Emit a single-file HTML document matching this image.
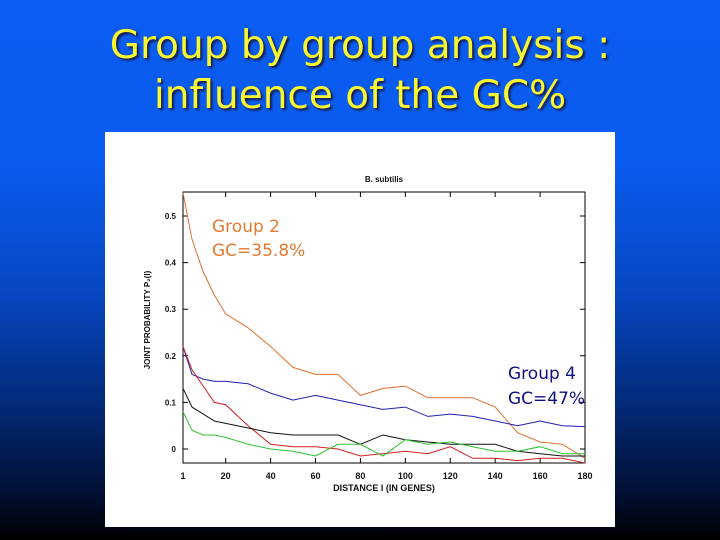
<!DOCTYPE html>
<html><head><meta charset="utf-8">
<style>
html,body{margin:0;padding:0}
body{width:720px;height:540px;overflow:hidden;position:relative;
background:linear-gradient(to bottom,#0a5cf2 0%,#0a5cf0 30%,#0746c0 55%,#032a78 75%,#010e30 92%,#000 100%);}
.title{position:absolute;left:0;width:720px;text-align:center;color:#f8f830;
font-family:"Comic Sans MS","DejaVu Sans",sans-serif;font-size:39px;line-height:50px;
text-shadow:2px 2px 2px #1a1a40;}
.panel{position:absolute;left:105px;top:132px;width:510px;height:395px;background:#fff}
</style></head><body>
<div class="title" style="top:21px">Group by group analysis :<br>influence of the GC%</div>
<div class="panel"></div>
<svg id="chart" width="720" height="540" style="position:absolute;left:0;top:0" font-family="Liberation Sans, sans-serif"></svg>
<script>
const xs = [1,5,10,15,20,30,40,50,60,70,80,90,100,110,120,130,140,150,160,170,180];
const orangeVals = [0.55,0.45,0.38,0.33,0.29,0.26,0.22,0.175,0.16,0.16,0.115,0.13,0.135,0.11,0.11,0.11,0.09,0.035,0.015,0.01,-0.02];
const blueVals = [0.22,0.16,0.15,0.145,0.145,0.14,0.12,0.105,0.115,0.105,0.095,0.085,0.09,0.07,0.075,0.07,0.06,0.05,0.06,0.05,0.048];
const redVals = [0.22,0.17,0.135,0.1,0.095,0.05,0.01,0.005,0.005,0,-0.015,-0.01,-0.005,-0.01,0.005,-0.02,-0.02,-0.025,-0.02,-0.02,-0.03];
const blackVals = [0.13,0.09,0.075,0.06,0.055,0.045,0.035,0.03,0.03,0.03,0.01,0.03,0.02,0.015,0.01,0.01,0.01,-0.005,-0.01,-0.015,-0.015];
const greenVals = [0.08,0.04,0.03,0.03,0.025,0.01,0,-0.005,-0.015,0.01,0.01,-0.015,0.02,0.01,0.015,0.005,-0.005,-0.005,0.005,-0.01,-0.01];
const xTicks = [1,20,40,60,80,100,120,140,160,180];
const xTickLabels = ["1","20","40","60","80","100","120","140","160","180"];
const yTicks = [0,0.1,0.2,0.3,0.4,0.5];
const yTickLabels = ["0","0.1","0.2","0.3","0.4","0.5"];

const svg = document.getElementById('chart');
const NS = 'http://www.w3.org/2000/svg';
const L=183,R=585,T=192,B=463;
function xScale(v){return L+(v-1)*(R-L)/179;}
function yScale(v){return 449-v*466;}
function mk(tag,attrs){const e=document.createElementNS(NS,tag);for(const k in attrs)e.setAttribute(k,attrs[k]);svg.appendChild(e);return e;}

const frame=mk('rect',{x:L,y:T,width:R-L,height:B-T,fill:'none',stroke:'#000','stroke-width':1});



xTicks.forEach((t,i)=>{
  const x=xScale(t);
  const tk=mk('path',{d:`M${x},${B}v-5M${x},${T}v5`,stroke:'#000','stroke-width':1});
  
  
  const lb=mk('text',{x:x,y:B+16,'font-size':9,'font-weight':'bold','text-anchor':'middle',fill:'#111'});
  lb.textContent=xTickLabels[i];
  
  
});
yTicks.forEach((t,i)=>{
  const y=yScale(t);
  const tk=mk('path',{d:`M${L},${y}h5M${R},${y}h-5`,stroke:'#000','stroke-width':1});
  
  
  const lb=mk('text',{x:L-7,y:y+3,'font-size':8,'font-weight':'bold','text-anchor':'end',fill:'#111'});
  lb.textContent=yTickLabels[i];
  
  
});

const series=[[orangeVals,'#e07030','orange-line'],[blueVals,'#2020b0','blue-line'],[redVals,'#d02020','red-line'],[blackVals,'#111','black-line'],[greenVals,'#30c030','green-line']];
series.forEach(([vals,col,name])=>{
  const d=vals.map((v,i)=>(i?'L':'M')+xScale(xs[i]).toFixed(1)+','+yScale(v).toFixed(1)).join('');
  const p=mk('path',{d:d,fill:'none',stroke:col,'stroke-width':1});
  
  
});

const t1=mk('text',{x:384,y:182,'font-size':8,'font-weight':'bold','text-anchor':'middle',fill:'#111'});
t1.textContent='B. subtilis';


const t2=mk('text',{x:384,y:491,'font-size':9,'font-weight':'bold','text-anchor':'middle',fill:'#111'});
t2.textContent='DISTANCE l (IN GENES)';


const t3=mk('text',{x:150,y:320,'font-size':8,'font-weight':'bold','text-anchor':'middle',fill:'#111',transform:'rotate(-90 150 320)'});
t3.textContent='JOINT PROBABILITY P\u2082(l)';



[['Group 2',212,232,'#e07a30','group2-label'],['GC=35.8%',212,256,'#e07a30','group2-gc-label'],['Group 4',508,379,'#101080','group4-label'],['GC=47%',508,404,'#101080','group4-gc-label']].forEach(([s,x,y,c,n])=>{
  const e=mk('text',{x:x,y:y,'font-size':17,fill:c,'font-family':'Comic Sans MS, DejaVu Sans, sans-serif'});
  e.textContent=s;
  
  
});
</script>
</body></html>
